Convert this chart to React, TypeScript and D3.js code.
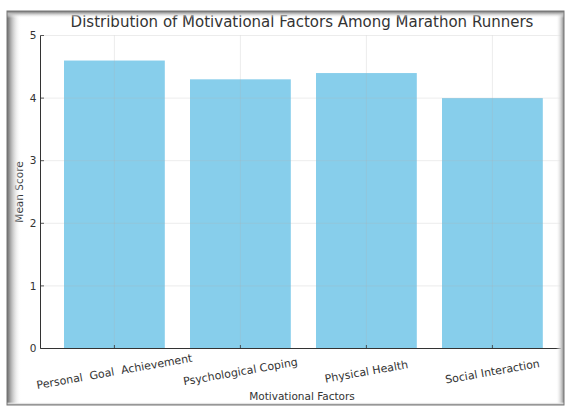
import React from "react";
import * as d3 from "d3";

const categories = ["Personal  Goal  Achievement", "Psychological Coping", "Physical Health", "Social Interaction"];
const meanScores = [4.6, 4.3, 4.4, 4.0];
const yTicks = [0, 1, 2, 3, 4, 5];
const title = "Distribution of Motivational Factors Among Marathon Runners";
const xLabel = "Motivational Factors";
const yLabel = "Mean Score";

const W = 568;
const H = 407;
const FONT = "DejaVu Sans, sans-serif";

export default function App() {
  const x = d3.scaleBand<string>().domain(categories).range([51.4, 555.4]).paddingInner(0.2).paddingOuter(0.1);
  const y = d3.scaleLinear().domain([0, 5]).range([348.5, 35.5]);
  const axL = 40.5;
  const axR = 566;
  const fx = 7, fy = 11, fr = 564, fb = 405;

  return (
    <svg width={W} height={H} style={{ position: "absolute", left: 0, top: 0, background: "#fff" }}>
      <defs>
        <linearGradient id="gl" x1="0" x2="1" y1="0" y2="0">
          <stop offset="0" stopColor="#6a6a6a" />
          <stop offset="0.25" stopColor="#a8a8a8" />
          <stop offset="1" stopColor="#ffffff" stopOpacity="0" />
        </linearGradient>
        <linearGradient id="gr" x1="1" x2="0" y1="0" y2="0">
          <stop offset="0" stopColor="#8a8a8a" />
          <stop offset="0.3" stopColor="#c4c4c4" />
          <stop offset="1" stopColor="#ffffff" stopOpacity="0" />
        </linearGradient>
        <linearGradient id="gt" x1="0" x2="0" y1="0" y2="1">
          <stop offset="0" stopColor="#707070" />
          <stop offset="0.35" stopColor="#b8b8b8" />
          <stop offset="1" stopColor="#ffffff" stopOpacity="0" />
        </linearGradient>
        <linearGradient id="gb" x1="0" x2="0" y1="1" y2="0">
          <stop offset="0" stopColor="#a0a0a0" />
          <stop offset="0.4" stopColor="#d8d8d8" />
          <stop offset="1" stopColor="#ffffff" stopOpacity="0" />
        </linearGradient>
        <clipPath id="frameClip">
          <rect x={fx} y={fy} width={fr - fx} height={fb - fy} />
        </clipPath>
      </defs>

      <g clipPath="url(#frameClip)">
        {categories.map((c, i) => (
          <rect key={c} x={x(c)} y={y(meanScores[i])} width={x.bandwidth()} height={y(0) - y(meanScores[i])} fill="#87CEEB" />
        ))}
        {yTicks.map((t) => (
          <line key={"gy" + t} x1={axL} x2={axR} y1={y(t)} y2={y(t)} stroke="#b0b0b0" strokeOpacity={0.3} strokeWidth={0.8} />
        ))}
        {categories.map((c) => {
          const cx = (x(c) as number) + x.bandwidth() / 2;
          return <line key={"gx" + c} x1={cx} x2={cx} y1={y(5)} y2={y(0)} stroke="#b0b0b0" strokeOpacity={0.3} strokeWidth={0.8} />;
        })}
        <line x1={axL} x2={axL} y1={y(5)} y2={y(0)} stroke="#333" strokeWidth={1} />
        <line x1={axL} x2={axR} y1={y(0)} y2={y(0)} stroke="#333" strokeWidth={1} />
        {yTicks.map((t) => (
          <g key={"ty" + t}>
            <line x1={axL} x2={axL + 3.5} y1={y(t)} y2={y(t)} stroke="#333" strokeWidth={0.8} />
            <text x={axL - 4} y={y(t)} dy="0.35em" textAnchor="end" fontSize={10.5} fontFamily={FONT} fill="#333">
              {t}
            </text>
          </g>
        ))}
        {categories.map((c) => {
          const cx = (x(c) as number) + x.bandwidth() / 2;
          return (
            <g key={"tx" + c}>
              <line x1={cx} x2={cx} y1={y(0)} y2={y(0) - 3.5} stroke="#333" strokeWidth={0.8} />
              <text
                transform={`translate(${cx},${y(0) + 23}) rotate(-10)`}
                textAnchor="middle"
                dy="0.35em"
                fontSize={11}
                fontFamily={FONT}
                fill="#333"
                style={{ whiteSpace: "pre" }}
              >
                {c}
              </text>
            </g>
          );
        })}
        <text x={302} y={396} dy="0.35em" textAnchor="middle" fontSize={10.5} fontFamily={FONT} fill="#333">
          {xLabel}
        </text>
        <text transform={`translate(19,${(y(0) + y(5)) / 2}) rotate(-90)`} dy="0.35em" textAnchor="middle" fontSize={10.5} fontFamily={FONT} fill="#333">
          {yLabel}
        </text>
        <text x={302} y={22} dy="0.35em" textAnchor="middle" fontSize={15} fontFamily={FONT} fill="#333">
          {title}
        </text>
      </g>

      <rect x={fx} y={fy} width={14} height={fb - fy} fill="url(#gl)" />
      <rect x={fr - 8} y={fy} width={8} height={fb - fy} fill="url(#gr)" />
      <rect x={fx} y={fy} width={fr - fx} height={7} fill="url(#gt)" />
      <rect x={fx} y={fb - 3} width={fr - fx} height={3} fill="url(#gb)" />
      <rect x={fx} y={fy} width={fr - fx} height={fb - fy} fill="none" stroke="#777" strokeWidth={1} />
    </svg>
  );
}
